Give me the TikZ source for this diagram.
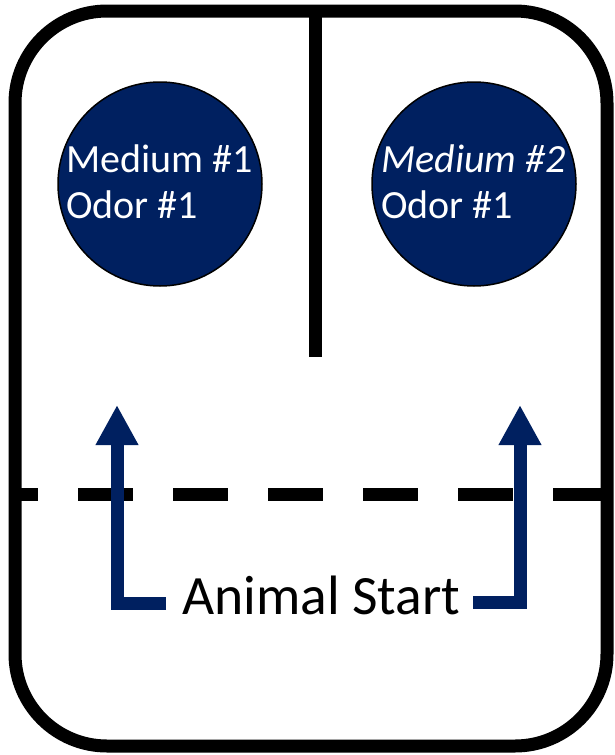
\documentclass[tikz,border=0pt]{standalone}
\usepackage{fontspec}
\setmainfont{Carlito}
\usetikzlibrary{arrows.meta}
\definecolor{navy}{HTML}{002060}
\tikzset{
  wall/.style={line width=13pt, line cap=butt, black},
  dish/.style={circle, draw=black, line width=1.5pt, fill=navy, minimum size=204pt, inner sep=0pt},
  dishtext/.style={text=white, inner sep=0pt, anchor=base west, font=\fontsize{40}{46}\selectfont},
  path arrow/.style={draw=navy, line width=13pt, line join=miter, line cap=butt,
    -{Triangle[width=40pt,length=40pt]}},
  label text/.style={inner sep=0pt, anchor=base west, font=\fontsize{55.5}{66}\selectfont}
}
\begin{document}
\begin{tikzpicture}[x=1pt,y=-1pt]
\useasboundingbox (0,0) rectangle (614,755);
% outer arena
\draw[wall, rounded corners=92pt] (15,11) rectangle (607,746);
% divider
\coordinate (dtop) at (315,11);
\coordinate (dbot) at (315,357);
\draw[wall] (dtop) -- (dbot);
% dashed start line
\coordinate (sl) at (16,494);
\coordinate (sr) at (606,494);
\draw[wall, dash pattern=on 55pt off 40pt, dash phase=33pt] (sl) -- (sr);
% dishes
\node[dish] (c1) at (160,184) {};
\node[dish] (c2) at (474,184) {};
\node[dishtext] (t1a) at (66,172) {Medium \#1};
\node[dishtext] (t1b) at (66,218) {Odor \#1};
\node[dishtext] (t2a) at (381,172) {\itshape Medium \#2};
\node[dishtext] (t2b) at (381,218) {Odor \#1};
% animal start
\node[label text] (start) at (182,614) {Animal Start};
\coordinate (l0) at (166,603);
\coordinate (l1) at (117,405);
\coordinate (r0) at (473,602);
\coordinate (r1) at (520,405);
\draw[path arrow] (l0) -| (l1);
\draw[path arrow] (r0) -| (r1);
\end{tikzpicture}
\end{document}
